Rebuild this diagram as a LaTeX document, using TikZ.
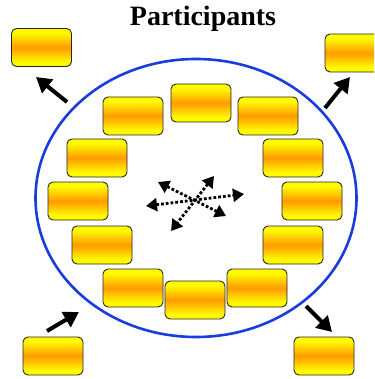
\documentclass[tikz,border=0pt]{standalone}
\usepackage{fontspec}
\setmainfont{Liberation Serif}
\usetikzlibrary{arrows.meta,shapes.geometric}
\definecolor{boxyellow}{RGB}{255,250,0}
\definecolor{boxorange}{RGB}{255,155,0}
\definecolor{ringblue}{RGB}{25,60,225}
% yellow edges fading to an orange band across the middle
\pgfdeclareverticalshading{cardfill}{100bp}{color(0bp)=(boxyellow); color(25bp)=(boxyellow); color(31bp)=(boxyellow); color(50bp)=(boxorange); color(69bp)=(boxyellow); color(75bp)=(boxyellow); color(100bp)=(boxyellow)}
\tikzset{
  card/.style={rounded corners=5pt, draw=black!85, line width=0.9pt,
    shading=cardfill,
    minimum width=60pt, minimum height=38pt, inner sep=0pt},
  flow/.style={line width=4pt, -{Triangle[length=15pt,width=17pt]}},
  mix/.style={line width=2.8pt, dotted, {Triangle[length=11pt,width=13pt]}-{Triangle[length=11pt,width=13pt]}}
}
\begin{document}
\begin{tikzpicture}[x=1pt,y=-1pt]
\useasboundingbox (0,0) rectangle (374,379);
\clip (0,0) rectangle (374,379);

% heading
\node[font=\bfseries\fontsize{28}{30}\selectfont] (title) at (203,19) {Participants};

% ring of members
\node[draw=ringblue, line width=2.6pt, ellipse, minimum width=321pt, minimum height=278pt] (ring) at (196,198) {};

% members on the ring
\node[card] (m1) at (201,103) {};
\node[card] (m2) at (133,116) {};
\node[card] (m3) at (268,116) {};
\node[card] (m4) at (97,158) {};
\node[card] (m5) at (293,158) {};
\node[card] (m6) at (78,201) {};
\node[card] (m7) at (312,201) {};
\node[card] (m8) at (102,245) {};
\node[card] (m9) at (293,245) {};
\node[card] (m10) at (133,288) {};
\node[card] (m12) at (257,288) {};
\node[card] (m11) at (195,300) {};

% outside members
\node[card] (o1) at (41.5,47.5) {};
\node[card] (o2) at (355,53) {};
\node[card] (o3) at (53,356) {};
\node[card] (o4) at (324,356) {};

% arrows for leaving and joining
\coordinate (a1) at (67,102);
\coordinate (a1e) at (36,77);
\coordinate (a2) at (325,108);
\coordinate (a2e) at (350,77);
\coordinate (a3) at (47,331);
\coordinate (a3e) at (79,312);
\coordinate (a4) at (306,306);
\coordinate (a4e) at (332,332);
\draw[flow] (a1) -- (a1e);
\draw[flow] (a2) -- (a2e);
\draw[flow] (a3) -- (a3e);
\draw[flow] (a4) -- (a4e);

% exchange in the middle
\coordinate (c1) at (146,206);
\coordinate (c2) at (244,194);
\coordinate (c3) at (158,182);
\coordinate (c4) at (226,216);
\coordinate (c5) at (214,176);
\coordinate (c6) at (171,231);
\draw[mix] (c1) -- (c2);
\draw[mix] (c3) -- (c4);
\draw[mix] (c5) -- (c6);
\end{tikzpicture}
\end{document}
